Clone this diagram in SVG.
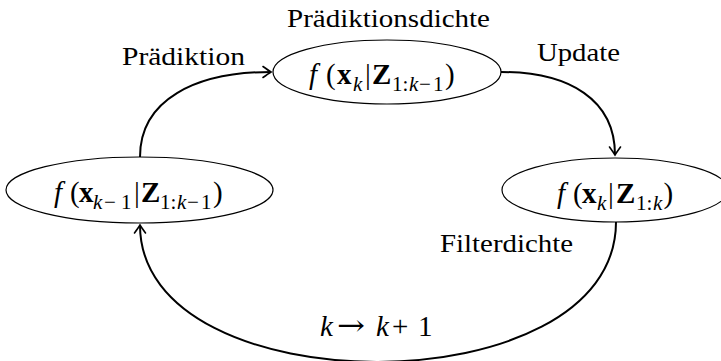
<svg xmlns="http://www.w3.org/2000/svg" width="721" height="361" viewBox="0 0 721 361">
<defs>
<style>
.node{fill:#fff;stroke:#000;stroke-width:1.2}
.edge{fill:none;stroke:#000;stroke-width:2}
.t{font-family:"Liberation Serif","Times New Roman",serif;font-size:25px;fill:#000}
.m{font-family:"Liberation Serif","Times New Roman",serif;font-size:29px;fill:#000}
.it{font-style:italic}
.b{font-weight:bold}
.s{font-size:21px}
.ar{font-family:"DejaVu Serif",serif}
</style>
<marker id="ar" markerUnits="userSpaceOnUse" markerWidth="16" markerHeight="16" viewBox="-12 -8 14 16" refX="0" refY="0" orient="auto">
<path d="M-8,-5.5 Q-2.5,-1.5 0,0 Q-2.5,1.5 -8,5.5" fill="none" stroke="#000" stroke-width="1.6" stroke-linecap="round"/>
</marker>
</defs>
<g id="connectors">
<path class="edge" d="M140,157 C140,100 195,72 271,72" marker-end="url(#ar)"/>
<path class="edge" d="M501,72 C570,72 615,100 615,155" marker-end="url(#ar)"/>
<path class="edge" d="M616,222 C616,408 140,408 140,225" marker-end="url(#ar)"/>
</g>
<g id="node-top">
<ellipse class="node" cx="387" cy="72" rx="114" ry="32"/>
<text class="m" y="84"><tspan class="it" x="309">f</tspan><tspan x="326">(</tspan><tspan class="b" x="337">x</tspan><tspan class="it s" x="353" dy="7">k</tspan><tspan x="365" dy="-7">|</tspan><tspan class="b" x="372">Z</tspan><tspan class="s" x="392" dy="7">1</tspan><tspan class="s" x="402.5">:</tspan><tspan class="s it" x="409">k</tspan><tspan class="s" x="419">−</tspan><tspan class="s" x="433">1</tspan><tspan x="445" dy="-7">)</tspan></text>
</g>
<g id="node-left">
<ellipse class="node" cx="139.5" cy="190" rx="133.5" ry="33"/>
<text class="m" y="202"><tspan class="it" x="54">f</tspan><tspan x="70">(</tspan><tspan class="b" x="79">x</tspan><tspan class="it s" x="93" dy="7">k</tspan><tspan class="s" x="104">−</tspan><tspan class="s" x="121">1</tspan><tspan x="134" dy="-7">|</tspan><tspan class="b" x="141">Z</tspan><tspan class="s" x="160" dy="7">1</tspan><tspan class="s" x="170.5">:</tspan><tspan class="s it" x="177">k</tspan><tspan class="s" x="187">−</tspan><tspan class="s" x="201">1</tspan><tspan x="213" dy="-7">)</tspan></text>
</g>
<g id="node-right">
<ellipse class="node" cx="615" cy="190" rx="113" ry="32"/>
<text class="m" y="203"><tspan class="it" x="557">f</tspan><tspan x="573">(</tspan><tspan class="b" x="582">x</tspan><tspan class="it s" x="597" dy="7">k</tspan><tspan x="608" dy="-7">|</tspan><tspan class="b" x="616">Z</tspan><tspan class="s" x="636" dy="7">1</tspan><tspan class="s" x="646.5">:</tspan><tspan class="s it" x="653">k</tspan><tspan x="663.5" dy="-7">)</tspan></text>
</g>
<g id="labels">
<text class="t" x="287" y="27" textLength="203" lengthAdjust="spacingAndGlyphs">Prädiktionsdichte</text>
<text class="t" x="122" y="65" textLength="123" lengthAdjust="spacingAndGlyphs">Prädiktion</text>
<text class="t" x="537" y="61" textLength="83" lengthAdjust="spacingAndGlyphs">Update</text>
<text class="t" x="440" y="252" textLength="133" lengthAdjust="spacingAndGlyphs">Filterdichte</text>
<text class="m" y="336"><tspan class="it" x="320">k</tspan><tspan class="ar" x="337" dy="-1" textLength="28" lengthAdjust="spacingAndGlyphs">→</tspan><tspan class="it" x="376" dy="1">k</tspan><tspan x="392">+</tspan><tspan x="418">1</tspan></text>
</g>
</svg>
